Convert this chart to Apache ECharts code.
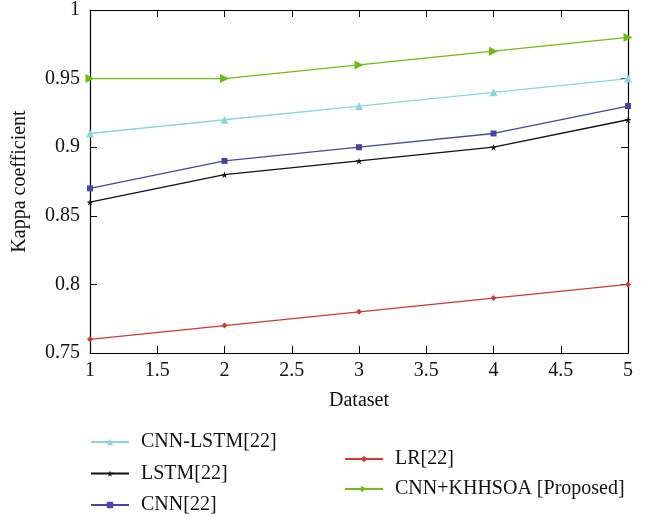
<!DOCTYPE html>
<html>
<head>
<meta charset="utf-8">
<script src="https://cdn.jsdelivr.net/npm/echarts@6/dist/echarts.min.js"></script>
<style>
  html, body { margin: 0; padding: 0; background: #fff; }
  #main { width: 661px; height: 517px; }
</style>
</head>
<body>
<div id="main"></div>
<script>
var datasets = [1, 2, 3, 4, 5];
var cnnLstm = [0.91, 0.92, 0.93, 0.94, 0.95];
var lstm = [0.86, 0.88, 0.89, 0.90, 0.92];
var cnn = [0.87, 0.89, 0.90, 0.91, 0.93];
var lr = [0.76, 0.77, 0.78, 0.79, 0.80];
var proposed = [0.95, 0.95, 0.96, 0.97, 0.98];

var font = 'Liberation Serif';
var starPath = 'path://M5,0 L6,4 L10,4 L6.8,6.3 L8,10 L5,7.7 L2,10 L3.2,6.3 L0,4 L4,4 Z';

function pairs(ys) {
    return datasets.map(function (x, i) { return [x, ys[i]]; });
}

function makeSeries(name, ys, color, symbol, size, rotate) {
    return {
        name: name,
        type: 'line',
        data: pairs(ys),
        symbol: symbol,
        symbolSize: size,
        symbolRotate: rotate || 0,
        showAllSymbol: true,
        lineStyle: { color: color, width: 1.3 },
        itemStyle: { color: color },
        emphasis: { disabled: true },
        clip: false
    };
}

var myChart = echarts.init(document.getElementById('main'));
var legendText = { fontFamily: font, fontSize: 20, color: '#111', padding: [0, 0, 0, 7] };
var option = {
    animation: false,
    grid: { left: 90, right: 33, top: 10, bottom: 164 },
    legend: [
        {
            data: ['CNN-LSTM[22]', 'LSTM[22]', 'CNN[22]'],
            orient: 'vertical', left: 90, top: 432, height: 85, padding: 0,
            itemWidth: 38, itemHeight: 8, itemGap: 11.5,
            textStyle: legendText
        },
        {
            data: ['LR[22]', 'CNN+KHHSOA [Proposed]'],
            orient: 'vertical', left: 344, top: 449, height: 60, padding: 0,
            itemWidth: 38, itemHeight: 8, itemGap: 10,
            textStyle: legendText
        }
    ],
    xAxis: [
        {
            type: 'value', min: 1, max: 5, interval: 0.5,
            name: 'Dataset', nameLocation: 'middle', nameGap: 38,
            nameTextStyle: { fontFamily: font, fontSize: 20, color: '#111' },
            axisLine: { lineStyle: { color: '#000', width: 1.2 } },
            axisTick: { inside: true, length: 7, lineStyle: { color: '#000' } },
            axisLabel: { fontFamily: font, fontSize: 20, color: '#111', margin: 8 },
            splitLine: { show: false }
        },
        {
            type: 'value', min: 1, max: 5, interval: 0.5, position: 'top',
            axisLine: { lineStyle: { color: '#000', width: 1.2 } },
            axisTick: { inside: true, length: 7, lineStyle: { color: '#000' } },
            axisLabel: { show: false },
            splitLine: { show: false }
        }
    ],
    yAxis: [
        {
            type: 'value', min: 0.75, max: 1, interval: 0.05,
            name: 'Kappa coefficient', nameLocation: 'middle', nameGap: 60,
            nameTextStyle: { fontFamily: font, fontSize: 20, color: '#111' },
            axisLine: { show: true, lineStyle: { color: '#000', width: 1.2 } },
            axisTick: { show: true, inside: true, length: 7, lineStyle: { color: '#000' } },
            axisLabel: { fontFamily: font, fontSize: 20, color: '#111', margin: 10,
                formatter: function (v) { return String(+v.toFixed(2)); } },
            splitLine: { show: false }
        },
        {
            type: 'value', min: 0.75, max: 1, interval: 0.05, position: 'right',
            axisLine: { show: true, lineStyle: { color: '#000', width: 1.2 } },
            axisTick: { show: true, inside: true, length: 7, lineStyle: { color: '#000' } },
            axisLabel: { show: false },
            splitLine: { show: false }
        }
    ],
    series: [
        makeSeries('CNN-LSTM[22]', cnnLstm, '#8ad6df', 'triangle', 8),
        makeSeries('LSTM[22]', lstm, '#111111', starPath, 7),
        makeSeries('CNN[22]', cnn, '#4347a6', 'rect', 6),
        makeSeries('LR[22]', lr, '#d23a2e', 'diamond', 6),
        makeSeries('CNN+KHHSOA [Proposed]', proposed, '#6cbf10', 'triangle', 9, -90)
    ]
};

myChart.setOption(option);
</script>
</body>
</html>
